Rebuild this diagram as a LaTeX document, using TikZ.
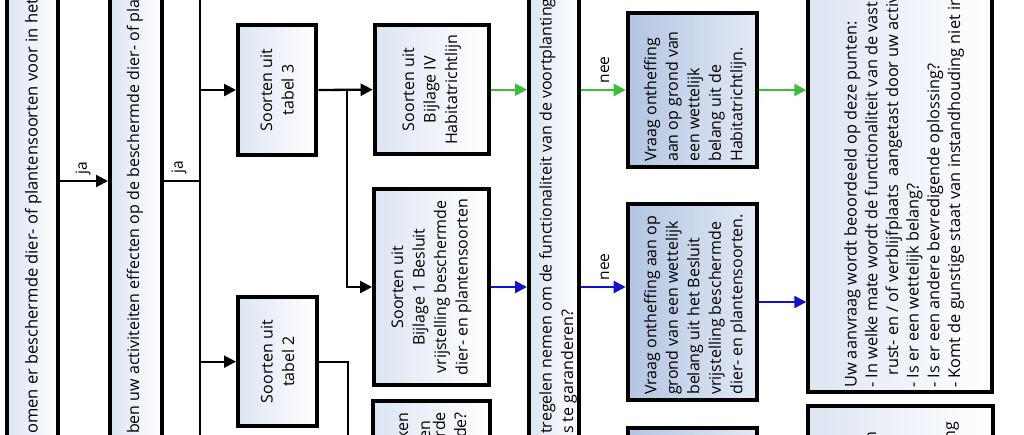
\documentclass[tikz,border=0pt]{standalone}
\usepackage{fontspec}
\setmainfont{Open Sans}
\usetikzlibrary{arrows.meta}
\definecolor{lb}{HTML}{DDE5F3}
\definecolor{vb}{HTML}{B3C5E2}
\definecolor{vbl}{HTML}{E2E9F5}
\definecolor{grn}{HTML}{3CBE3C}
\definecolor{blu}{HTML}{1212C8}
\begin{document}
\begin{tikzpicture}[x=1pt,y=-1pt,
  lbox/.style={draw=black, line width=4pt, left color=lb, right color=white, inner sep=0pt},
  vbox/.style={draw=black, line width=4pt, left color=vb, right color=vbl, inner sep=0pt},
  conn/.style={line width=2.3pt, draw=black},
  arr/.style={conn, -{Triangle[length=12pt,width=12pt]}},
  garr/.style={line width=2.3pt, draw=grn, -{Triangle[length=12pt,width=12pt]}},
  barr/.style={line width=2.3pt, draw=blu, -{Triangle[length=12pt,width=12pt]}},
  txt/.style={rotate=90, font=\fontsize{16}{21.5}\selectfont, inner sep=0pt},
  lbl/.style={rotate=90, font=\fontsize{15.5}{16}\selectfont, inner sep=0pt},
]
\useasboundingbox (0,0) rectangle (1024,434);
\begin{scope}
\clip (0,0) rectangle (1024,434);
% boxes
\node[lbox, minimum width=51.6, minimum height=514] (b1) at (32.5,217) {};
\node[lbox, minimum width=51.7, minimum height=514] (b2) at (135.85,217) {};
\node[lbox, minimum width=78.3, minimum height=129.4] (t3) at (277.15,90) {};
\node[lbox, minimum width=79, minimum height=128.7] (t2) at (277.5,361.65) {};
\node[lbox, minimum width=114, minimum height=128.7] (IV) at (431.7,89.65) {};
\node[lbox, minimum width=115, minimum height=196] (B1) at (431.5,287) {};
\node[lbox, minimum width=116.7, minimum height=199.3] (b5) at (431.65,500.35) {};
\node[lbox, minimum width=50.3, minimum height=514] (b3) at (554.15,217) {};
\node[vbox, minimum width=129, minimum height=153.4] (HV) at (692.2,90) {};
\node[vbox, minimum width=129, minimum height=196] (BV) at (692.2,302) {};
\node[vbox, minimum width=129, minimum height=202.3] (LV) at (692.2,528.85) {};
\node[lbox, minimum width=184, minimum height=432.3] (big) at (900.3,176.15) {};
\node[lbox, minimum width=184.4, minimum height=194.3] (big2) at (900.5,502.85) {};
% texts
\node[txt, anchor=base west, font=\fontsize{16.5}{21.5}\selectfont] (b1t) at (37.5,434) {omen er beschermde dier- of plantensoorten voor in het plangebied?};
\node[txt, anchor=base west] (b2t) at (139,434) {ben uw activiteiten effecten op de beschermde dier- of plantensoorten?};
\node[txt, align=center] (t3t) at (t3) {Soorten uit\\tabel 3};
\node[txt, align=center] (t2t) at (t2) {Soorten uit\\tabel 2};
\node[txt, align=center] (IVt) at (IV) {Soorten uit\\Bijlage IV\\Habitatrichtlijn};
\node[txt, align=center] (B1t) at (B1) {Soorten uit\\Bijlage 1 Besluit\\vrijstelling beschermde\\dier- en plantensoorten};
\node[txt, anchor=base east] (b5a) at (408,412) {xken};
\node[txt, anchor=base east] (b5b) at (430,420) {en};
\node[txt, anchor=base east] (b5c) at (445,412) {rde};
\node[txt, anchor=base east] (b5d) at (466,412) {de?};
\node[txt, anchor=base west] (b3a) at (551.5,434) {tregelen nemen om de functionaliteit van de voortplantings- of rustplaats};
\node[txt, anchor=base west] (b3b) at (573,434) {s te garanderen?};
\node[txt, align=left, anchor=north west] (HVt) at (644,162) {Vraag ontheffing\\aan op grond van\\een wettelijk\\belang uit de\\Habitatrichtlijn.};
\node[txt, align=left, anchor=north west] (BVt) at (644,395) {Vraag ontheffing aan op\\grond van een wettelijk\\belang uit het Besluit\\vrijstelling beschermde\\dier- en plantensoorten.};
\node[txt, align=left, anchor=north west, font=\fontsize{16.3}{20.7}\selectfont] (bigt) at (844,388) {Uw aanvraag wordt beoordeeld op deze punten:\\- In welke mate wordt de functionaliteit van de vaste\\\hspace*{0.75em}rust- en / of verblijfplaats\ \ aangetast door uw activiteiten?\\- Is er een wettelijk belang?\\- Is er een andere bevredigende oplossing?\\- Komt de gunstige staat van instandhouding niet in gevaar?};
\node[txt, anchor=base east] (big2a) at (876,431) {n};
\node[txt, anchor=base east] (big2b) at (955,421.7) {ng};
% labels
\node[lbl] (ja1) at (83,168) {ja};
\node[lbl] (ja2) at (179,167) {ja};
\node[lbl] (nee1) at (605,70) {nee};
\node[lbl] (nee2) at (605,267) {nee};
% coordinates
\coordinate (ya) at (0,181);
\coordinate (vtop) at (200,-10);
\coordinate (vbot) at (200,444);
\coordinate (v3) at (200,90);
\coordinate (v2) at (200,361.65);
\coordinate (jB) at (347,90);
\coordinate (t2b) at (348,444);
% connectors
\draw[arr] (b1.east |- ya) -- (b2.west |- ya);
\draw[conn] (b2.east |- ya) -- (vtop |- ya);
\draw[conn] (vtop) -- (vbot);
\draw[arr] (v3) -- (t3.west);
\draw[arr] (v2) -- (t2.west);
\draw[arr] (t3.east) -- (IV.west);
\draw[arr] (jB) |- (B1.west);
\draw[conn] (t2.east) -| (t2b);
\draw[garr] (IV.east) -- (IV.east -| b3.west);
\draw[barr] (B1.east) -- (B1.east -| b3.west);
\draw[garr] (b3.east |- HV.west) -- (HV.west);
\draw[barr] (b3.east |- B1.east) -- (BV.west |- B1.east);
\draw[garr] (HV.east) -- (HV.east -| big.west);
\draw[barr] (BV.east) -- (BV.east -| big.west);
\end{scope}
\end{tikzpicture}
\end{document}
